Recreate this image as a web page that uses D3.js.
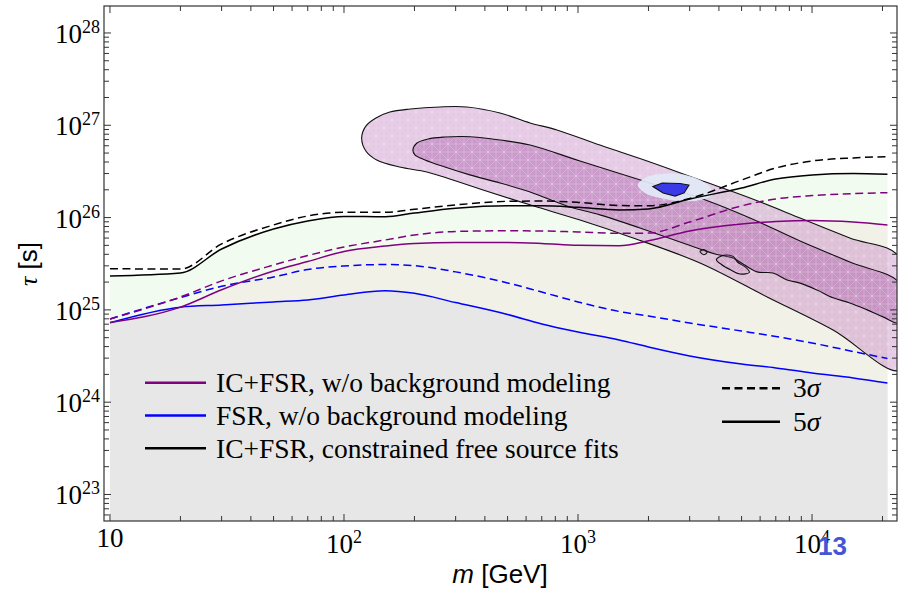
<!DOCTYPE html>
<html>
<head>
<meta charset="utf-8">
<script src="https://cdn.jsdelivr.net/npm/d3@7"></script>
<style>
body { margin: 0; background: #fff; }
svg text { font-family: "Liberation Serif", "DejaVu Serif", serif; fill: #000; }
.sans { font-family: "Liberation Sans", Arial, sans-serif; }
</style>
</head>
<body>
<svg id="chart" width="898" height="594"></svg>
<script>
// mass grid [GeV] shared by all limit curves
var mass = [10, 20, 30, 50, 70, 100, 150, 200, 300, 500, 700, 1000, 1500, 2000, 3000, 5000, 7000, 10000, 15000, 21000];

// lifetime limits tau [s]
var icfsr5 = [7.29e24, 1.07e25, 1.65e25, 2.64e25, 3.34e25, 4.30e25, 4.92e25, 5.24e25, 5.37e25, 5.37e25, 5.24e25, 5.0e25, 4.95e25, 5.6e25, 7.16e25, 8.53e25, 9.08e25, 9.31e25, 8.96e25, 8.32e25];
var icfsr3 = [7.97e24, 1.38e25, 2.06e25, 3.06e25, 3.88e25, 4.80e25, 5.72e25, 6.48e25, 7.07e25, 7.19e25, 7.16e25, 6.98e25, 6.76e25, 6.79e25, 8.96e25, 1.34e26, 1.59e26, 1.73e26, 1.82e26, 1.86e26];
var fsr5 = [7.26e24, 1.07e25, 1.13e25, 1.22e25, 1.28e25, 1.45e25, 1.61e25, 1.51e25, 1.20e25, 8.91e24, 7.04e24, 5.76e24, 4.72e24, 3.96e24, 3.17e24, 2.59e24, 2.35e24, 2.07e24, 1.83e24, 1.61e24];
var fsr3 = [7.97e24, 1.36e25, 1.80e25, 2.27e25, 2.74e25, 2.99e25, 3.10e25, 3.01e25, 2.58e25, 1.96e25, 1.56e25, 1.22e25, 9.61e24, 8.59e24, 7.21e24, 5.90e24, 5.15e24, 4.38e24, 3.54e24, 2.97e24];
var free5 = [2.33e25, 2.51e25, 4.57e25, 7.52e25, 9.18e25, 1.03e26, 1.02e26, 1.12e26, 1.26e26, 1.34e26, 1.34e26, 1.29e26, 1.21e26, 1.24e26, 1.59e26, 2.09e26, 2.62e26, 2.90e26, 3.01e26, 2.94e26];
var free3 = [2.79e25, 2.77e25, 5.18e25, 8.32e25, 1.04e26, 1.14e26, 1.14e26, 1.23e26, 1.37e26, 1.50e26, 1.51e26, 1.46e26, 1.35e26, 1.34e26, 1.61e26, 2.55e26, 3.44e26, 4.10e26, 4.43e26, 4.57e26];

// best-fit contours [m, tau]
var outerBand = [[119, 7.3e26], [124, 9.8e26], [137, 1.20e27], [157, 1.39e27], [192, 1.50e27], [257, 1.58e27], [335, 1.58e27], [464, 1.36e27], [624, 1.06e27], [813, 8.9e26], [1240, 6.1e26], [2030, 4.0e26], [3320, 2.55e26], [5430, 1.63e26], [8890, 9.9e25], [14500, 6.0e25], [23800, 3.65e25],
  [23800, 2.23e24], [12300, 6.05e24], [6430, 1.38e25], [3320, 3.22e25], [1670, 6.17e25], [1020, 9.4e25], [643, 1.34e26], [393, 1.99e26], [292, 2.55e26], [226, 3.12e26], [173, 3.53e26], [138, 4.21e26], [124, 5.27e26]];
var innerBand = [[197, 5.4e26], [205, 6.43e26], [229, 7.11e26], [270, 7.46e26], [319, 7.57e26], [381, 7.38e26], [464, 6.93e26], [624, 6.12e26], [1020, 4.10e26], [2030, 2.37e26], [3320, 1.63e26], [5430, 9.9e25], [8890, 5.57e25], [14500, 3.30e25], [23800, 1.91e25],
  [23800, 7.2e24], [20100, 8.4e24], [17200, 1.0e25], [14500, 1.19e25], [12300, 1.35e25], [10500, 1.64e25], [8890, 1.95e25], [7820, 2.11e25], [6810, 2.51e25], [5820, 2.58e25], [4920, 3.30e25], [4590, 3.65e25], [3850, 4.04e25], [3320, 4.57e25], [1840, 7.71e25], [1240, 1.07e26], [925, 1.30e26], [624, 1.89e26], [464, 2.37e26], [345, 2.90e26], [270, 3.53e26], [222, 4.21e26], [201, 4.77e26]];
var islandA = [[3320, 4.3e25], [3450, 4.5e25], [3560, 4.2e25], [3450, 3.95e25]];
var islandB = [[3900, 3.5e25], [4200, 3.9e25], [4600, 3.8e25], [4800, 3.3e25], [5200, 2.9e25], [5400, 2.55e25], [4900, 2.45e25], [4500, 2.7e25], [4100, 3.1e25]];
var halo = [[1800, 2.25e26], [1930, 2.69e26], [2240, 2.97e26], [2730, 2.97e26], [3260, 2.62e26], [3660, 2.14e26], [3740, 1.76e26], [3320, 1.55e26], [2730, 1.51e26], [2240, 1.63e26], [1930, 1.85e26]];
var core = [[2090, 2.17e26], [2290, 2.37e26], [2730, 2.34e26], [2980, 2.25e26], [2840, 1.85e26], [2600, 1.71e26], [2310, 1.85e26]];

var xMajor = [10, 100, 1000, 10000];
var yMajor = [1e23, 1e24, 1e25, 1e26, 1e27, 1e28];
var legendNames = ["IC+FSR, w/o background modeling", "FSR, w/o background modeling", "IC+FSR, constrained free source fits"];
var legendColors = ["#800080", "#0000ff", "#000000"];

var pLeft = 104, pRight = 897, pTop = 6, pBottom = 521;

var svg = d3.select("#chart");

var x = d3.scaleLog().domain([9.43, 23070]).range([pLeft, pRight]);
var y = d3.scaleLog().domain([5.16e22, 1.96e28]).range([pBottom, pTop]);

var defs = svg.append("defs");
defs.append("clipPath").attr("id", "plotClip")
    .append("rect").attr("x", pLeft).attr("y", pTop).attr("width", pRight - pLeft).attr("height", pBottom - pTop);
var pat = defs.append("pattern").attr("id", "lattice")
    .attr("patternUnits", "userSpaceOnUse").attr("width", 16).attr("height", 16);
pat.append("path")
    .attr("d", "M0 0H16V16H0Z M0 0L16 16 M16 0L0 16 M8 0V16 M0 8H16")
    .attr("fill", "none").attr("stroke", "#fff").attr("stroke-opacity", 0.22).attr("stroke-width", 0.8);

var plot = svg.append("g").attr("clip-path", "url(#plotClip)");

// shaded exclusion regions
function areaUnder(vals) {
    return d3.area()
        .x(function (d, i) { return x(mass[i]); })
        .y0(pBottom)
        .y1(function (d) { return y(d); })
        .curve(d3.curveMonotoneX)(vals);
}
plot.append("path").attr("d", areaUnder(free5)).attr("fill", "#f2fbef");
plot.append("path").attr("d", areaUnder(icfsr5)).attr("fill", "#f2f1e7");
plot.append("path").attr("d", areaUnder(fsr5)).attr("fill", "#e7e7e7");

// contour bands
var closedLine = d3.line()
    .x(function (d) { return x(d[0]); })
    .y(function (d) { return y(d[1]); })
    .curve(d3.curveCatmullRomClosed.alpha(0.5));

function band(pts, fill) {
    plot.append("path").attr("d", closedLine(pts)).attr("fill", fill);
    plot.append("path").attr("d", closedLine(pts)).attr("fill", "url(#lattice)");
    plot.append("path").attr("d", closedLine(pts)).attr("fill", "none").attr("stroke", "#111").attr("stroke-width", 1.1);
}
band(outerBand, "rgba(190,120,190,0.40)");
band(innerBand, "rgba(170,90,170,0.43)");
band(islandA, "rgba(170,90,170,0.2)");
band(islandB, "rgba(170,90,170,0.2)");
plot.append("path").attr("d", closedLine(halo)).attr("fill", "#e2e9f6").attr("fill-opacity", 0.92);
plot.append("path").attr("d", d3.line().x(function (d) { return x(d[0]); }).y(function (d) { return y(d[1]); }).curve(d3.curveLinearClosed)(core))
    .attr("fill", "#3a3ae8").attr("stroke", "#111").attr("stroke-width", 1.1);

// limit curves
var curve = d3.line()
    .x(function (d, i) { return x(mass[i]); })
    .y(function (d) { return y(d); })
    .curve(d3.curveMonotoneX);
var series = [
    { v: fsr3, c: "#0000ff", dash: "8,4.5" },
    { v: fsr5, c: "#0000ff", dash: null },
    { v: icfsr3, c: "#800080", dash: "8,4.5" },
    { v: icfsr5, c: "#800080", dash: null },
    { v: free3, c: "#000000", dash: "8,4.5" },
    { v: free5, c: "#000000", dash: null }
];
series.forEach(function (s) {
    plot.append("path").attr("d", curve(s.v))
        .attr("fill", "none").attr("stroke", s.c).attr("stroke-width", 1.5)
        .attr("stroke-dasharray", s.dash);
});

// frame and ticks
svg.append("rect").attr("x", pLeft).attr("y", pTop).attr("width", pRight - pLeft).attr("height", pBottom - pTop)
    .attr("fill", "none").attr("stroke", "#333").attr("stroke-width", 1.2);

var xTicks = [], yTicks = [];
for (var d = 1; d <= 4; d++) for (var k = 1; k <= 9; k++) {
    var v = k * Math.pow(10, d);
    if (v >= x.domain()[0] && v <= x.domain()[1]) xTicks.push({ v: v, major: k === 1 });
}
for (var d = 22; d <= 28; d++) for (var k = 1; k <= 9; k++) {
    var v = k * Math.pow(10, d);
    if (v >= y.domain()[0] && v <= y.domain()[1]) yTicks.push({ v: v, major: k === 1 });
}
var tg = svg.append("g").attr("stroke", "#333").attr("stroke-width", 1);
xTicks.forEach(function (t) {
    var len = t.major ? 7 : 5, px = x(t.v);
    tg.append("line").attr("x1", px).attr("x2", px).attr("y1", pBottom).attr("y2", pBottom - len);
    tg.append("line").attr("x1", px).attr("x2", px).attr("y1", pTop).attr("y2", pTop + len);
});
yTicks.forEach(function (t) {
    var len = t.major ? 7 : 5, py = y(t.v);
    tg.append("line").attr("x1", pLeft).attr("x2", pLeft + len).attr("y1", py).attr("y2", py);
    tg.append("line").attr("x1", pRight).attr("x2", pRight - len).attr("y1", py).attr("y2", py);
});

// tick labels
xMajor.forEach(function (v) {
    var e = Math.round(Math.log10(v));
    var t = svg.append("text").attr("x", x(v)).attr("text-anchor", "middle").style("font-size", "27px");
    if (e === 1) {
        t.attr("y", 547).text("10");
    } else {
        t.attr("y", 552.5);
        t.append("tspan").text("10");
        t.append("tspan").attr("dy", -10).style("font-size", "18px").text(e);
    }
});
yMajor.forEach(function (v) {
    var e = Math.round(Math.log10(v));
    var t = svg.append("text").attr("x", 100).attr("y", y(v) + 10).attr("text-anchor", "end").style("font-size", "27px");
    t.append("tspan").text("10");
    t.append("tspan").attr("dy", -10).style("font-size", "18px").text(e);
});

// axis titles
var xt = svg.append("text").attr("class", "sans").attr("x", 500).attr("y", 583).attr("text-anchor", "middle").style("font-size", "26px");
xt.append("tspan").style("font-style", "italic").text("m");
xt.append("tspan").text(" [GeV]");
var yt = svg.append("text").attr("class", "sans").attr("transform", "translate(37,264) rotate(-90)").attr("text-anchor", "middle").style("font-size", "26px");
yt.append("tspan").attr("font-family", "Liberation Serif").style("font-style", "italic").text("τ");
yt.append("tspan").text(" [s]");

// legend
legendNames.forEach(function (name, i) {
    var ly = 382.7 + i * 32.8;
    svg.append("line").attr("x1", 145).attr("x2", 206).attr("y1", ly).attr("y2", ly)
        .attr("stroke", legendColors[i]).attr("stroke-width", 2.6);
    svg.append("text").attr("x", 216).attr("y", ly + 9.3).style("font-size", "27.5px").text(name);
});
["3", "5"].forEach(function (n, i) {
    var ly = 388.3 + i * 33.4;
    svg.append("line").attr("x1", 722).attr("x2", 780).attr("y1", ly).attr("y2", ly)
        .attr("stroke", "#000").attr("stroke-width", 2.6).attr("stroke-dasharray", i === 0 ? "8,4.5" : null);
    var t = svg.append("text").attr("x", 793).attr("y", ly + 9).style("font-size", "27.5px");
    t.append("tspan").text(n);
    t.append("tspan").style("font-style", "italic").text("σ");
});

// page number overlay
svg.append("text").attr("class", "sans").attr("x", 818).attr("y", 555)
    .style("font-size", "26px").style("font-weight", "bold").style("fill", "#4655d4").text("13");
</script>
</body>
</html>
